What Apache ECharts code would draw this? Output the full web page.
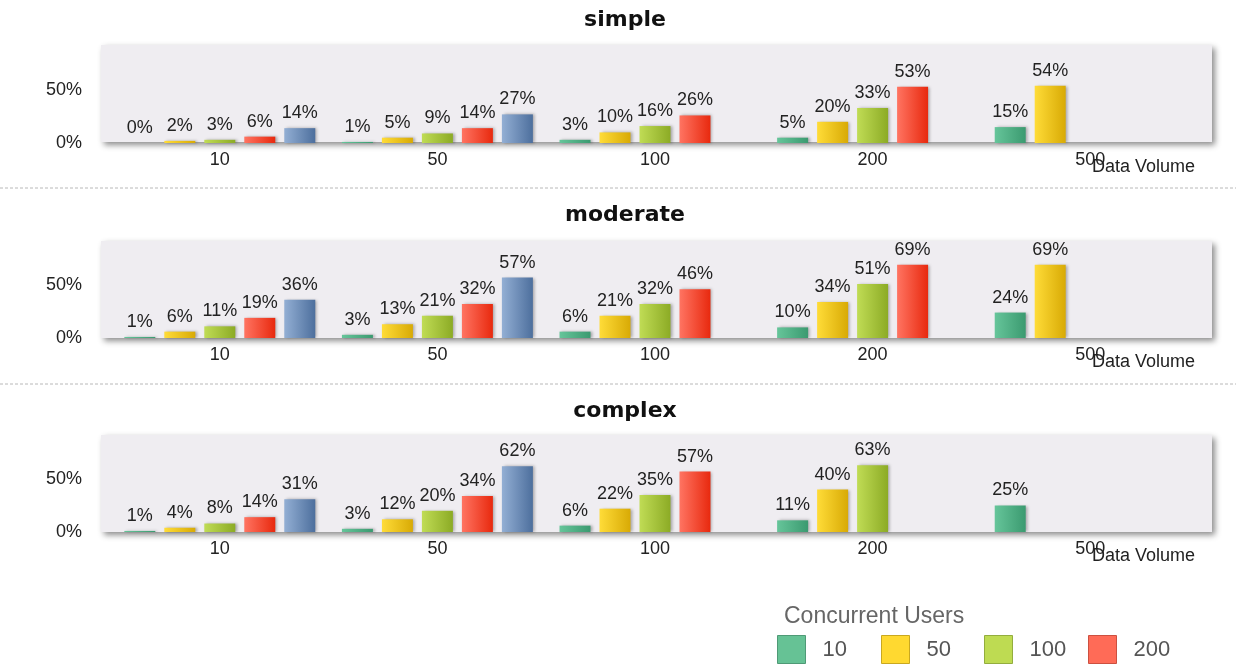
<!DOCTYPE html>
<html>
<head>
<meta charset="utf-8">
<script src="https://cdn.jsdelivr.net/npm/echarts@6/dist/echarts.min.js"></script>
<style>
html,body{margin:0;padding:0;background:#fff;}
#chart{width:1248px;height:666px;}
</style>
</head>
<body>
<div id="chart"></div>
<script>
// ---- data ----
const volumes = ['10', '50', '100', '200', '500'];          // x categories (Data Volume)
const userNames = ['10', '50', '100', '200', '500'];        // series (Concurrent Users)
const legendNames = ['10', '50', '100', '200'];
const panelTitles = ['simple', 'moderate', 'complex'];
const yTicks = [0, 50];

const simpleU10  = [0, 1, 3, 5, 15];
const simpleU50  = [2, 5, 10, 20, 54];
const simpleU100 = [3, 9, 16, 33, null];
const simpleU200 = [6, 14, 26, 53, null];
const simpleU500 = [14, 27, null, null, null];

const moderateU10  = [1, 3, 6, 10, 24];
const moderateU50  = [6, 13, 21, 34, 69];
const moderateU100 = [11, 21, 32, 51, null];
const moderateU200 = [19, 32, 46, 69, null];
const moderateU500 = [36, 57, null, null, null];

const complexU10  = [1, 3, 6, 11, 25];
const complexU50  = [4, 12, 22, 40, null];
const complexU100 = [8, 20, 35, 63, null];
const complexU200 = [14, 34, 57, null, null];
const complexU500 = [31, 62, null, null, null];

const panelData = [
  [simpleU10, simpleU50, simpleU100, simpleU200, simpleU500],
  [moderateU10, moderateU50, moderateU100, moderateU200, moderateU500],
  [complexU10, complexU50, complexU100, complexU200, complexU500]
];

// ---- styling ----
const FONT = '"Liberation Sans", Arial, sans-serif';
const colorsLight = ['#66c59a', '#ffdc38', '#c0dc55', '#ff7462', '#93afd4'];
const colorsDark  = ['#3b9a70', '#d8aa05', '#8cab25', '#e8290e', '#4d6f9d'];
const legendColors = ['#66c295', '#ffd930', '#bedb52', '#ff6b57', '#8aa8cf'];
const legendBorders = ['#4f9a76', '#c9a820', '#93ad3e', '#cc5040', '#6a86ad'];
const legendLefts = [777, 881, 984, 1088];

const gridLayout = [
  { top: 37, height: 106, bgTop: 45, bgH: 97 },
  { top: 232, height: 106, bgTop: 241, bgH: 97 },
  { top: 426, height: 106, bgTop: 435, bgH: 97 }
];
const titleTops = [4, 199, 395];
const GRID_LEFT = 111, GRID_RIGHT = 49;
const BG_LEFT = 101, BG_W = 1111;

const grids = [], xAxes = [], yAxes = [], series = [], titles = [], graphics = [];

panelTitles.forEach((t, i) => {
  const g = gridLayout[i];
  titles.push({
    text: t, left: 620, top: titleTops[i], textAlign: 'center',
    textStyle: { fontFamily: '"DejaVu Sans", Verdana, sans-serif', fontWeight: 'bold', fontSize: 22, color: '#111' }
  });
  graphics.push({
    type: 'rect', z: -10,
    shape: { x: BG_LEFT, y: g.bgTop, width: BG_W, height: g.bgH },
    style: { fill: '#efedf1', shadowBlur: 6, shadowOffsetX: 3, shadowOffsetY: 3, shadowColor: 'rgba(0,0,0,0.45)' }
  });
  grids.push({ left: GRID_LEFT, right: GRID_RIGHT, top: g.top, height: g.height });
  xAxes.push({
    type: 'category', gridIndex: i, data: volumes,
    axisLine: { show: false }, axisTick: { show: false },
    axisLabel: { fontFamily: FONT, fontSize: 18, color: '#222', margin: 8 },
    name: 'Data Volume', nameLocation: 'end', nameGap: -4, nameMoveOverlap: false,
    nameTextStyle: { fontFamily: FONT, fontSize: 18, color: '#222', align: 'right', verticalAlign: 'top', padding: [15, 0, 0, 0] }
  });
  yAxes.push({
    type: 'value', gridIndex: i, min: 0, max: 100, interval: 50,
    axisLine: { show: false }, axisTick: { show: false }, splitLine: { show: false },
    axisLabel: {
      fontFamily: FONT, fontSize: 18, color: '#222', margin: 29,
      formatter: v => (yTicks.indexOf(v) >= 0 ? v + '%' : '')
    }
  });
  panelData[i].forEach((arr, s) => {
    series.push({
      type: 'bar', name: userNames[s], xAxisIndex: i, yAxisIndex: i,
      data: arr, barWidth: 31, barGap: '29%',
      itemStyle: {
        color: new echarts.graphic.LinearGradient(0, 0, 1, 0, [
          { offset: 0, color: colorsLight[s] },
          { offset: 1, color: colorsDark[s] }
        ]),
        shadowBlur: 3, shadowOffsetX: 2, shadowOffsetY: 0, shadowColor: 'rgba(0,0,0,0.3)'
      },
      label: {
        show: true, position: 'top', distance: 6,
        fontFamily: FONT, fontSize: 18, color: '#222',
        formatter: p => (p.value == null ? '' : p.value + '%')
      },
      emphasis: { disabled: true }
    });
  });
});

// dashed separators
[188, 384].forEach(y => {
  graphics.push({
    type: 'line', shape: { x1: 0, y1: y, x2: 1236, y2: y },
    style: { stroke: '#b8b8b8', lineWidth: 1, lineDash: [3, 2] }
  });
});

titles.push({
  text: 'Concurrent Users', left: 779, top: 600,
  textStyle: { fontFamily: FONT, fontWeight: 'normal', fontSize: 23, color: '#666' }
});

const legends = legendNames.map((n, k) => ({
  data: [{
    name: n, icon: 'rect',
    itemStyle: { color: legendColors[k], borderColor: legendBorders[k], borderWidth: 1 }
  }],
  left: legendLefts[k], top: 635, padding: 0, itemWidth: 28, itemHeight: 28,
  selectedMode: false,
  textStyle: { fontFamily: FONT, fontSize: 22, color: '#555', padding: [0, 0, 0, 12] }
}));

const chart = echarts.init(document.getElementById('chart'), null, { renderer: 'canvas' });
chart.setOption({
  animation: false,
  backgroundColor: '#ffffff',
  title: titles,
  grid: grids,
  xAxis: xAxes,
  yAxis: yAxes,
  series: series,
  graphic: graphics,
  color: legendColors,
  legend: legends
});
</script>
</body>
</html>
